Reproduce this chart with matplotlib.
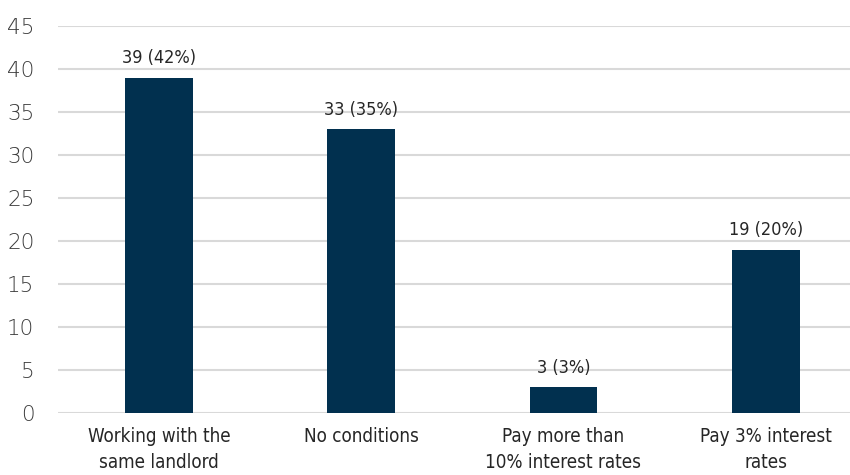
import matplotlib.pyplot as plt
import numpy as np

# Responses by condition
categories = ['Working with the\nsame landlord', 'No conditions',
              'Pay more than\n10% interest rates', 'Pay 3% interest\nrates']
counts = [39, 33, 3, 19]
shares = [42, 35, 3, 20]

BAR_COLOR = '#01304f'
GRID_COLOR = '#d9d9d9'
TEXT_COLOR = '#262626'

plt.rcParams['font.family'] = ['DejaVu Sans']
plt.rcParams['font.stretch'] = 'condensed'

fig = plt.figure(figsize=(8.5, 4.75), dpi=100)
ax = fig.add_axes([58 / 850, 1 - 413 / 475, 808.75 / 850, 387 / 475])

x = np.arange(len(categories))
bars = ax.bar(x, counts, width=0.335, color=BAR_COLOR, zorder=3)

for b, c, s in zip(bars, counts, shares):
    ax.text(b.get_x() + b.get_width() / 2, c + 1.2, f'{c} ({s}%)',
            ha='center', va='bottom', fontsize=13, color=TEXT_COLOR,
            fontstretch='condensed')

ax.set_xlim(-0.5, len(categories) - 0.5)
ax.set_ylim(0, 45)
ax.set_yticks(range(0, 46, 5))
ax.set_xticks(x)
ax.set_xticklabels(categories, fontsize=13.5, color=TEXT_COLOR, linespacing=1.45,
                   fontstretch='condensed')
ax.tick_params(axis='y', length=0, pad=17, labelsize=15.5, labelcolor='#3c3c3c')
ax.tick_params(axis='x', length=0, pad=10)
for lbl in ax.get_yticklabels():
    lbl.set_fontstretch('normal')
    lbl.set_fontweight('light')

ax.grid(axis='y', color=GRID_COLOR, linewidth=1.5, zorder=0)
for sp in ax.spines.values():
    sp.set_visible(False)

fig.savefig('out.png', dpi=100)
